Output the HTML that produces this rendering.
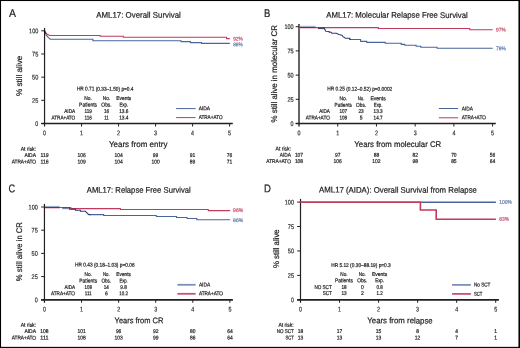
<!DOCTYPE html>
<html><head><meta charset="utf-8"><style>
html,body{margin:0;padding:0;background:#fff;}
svg{display:block;font-family:"Liberation Sans", sans-serif;text-rendering:geometricPrecision;will-change:transform;}
text{stroke-width:0.22px;}
</style></head><body>
<svg width="520" height="348" viewBox="0 0 520 348">
<rect x="0" y="0" width="520" height="348" fill="#fff"/>
<line x1="44.55" y1="28.00" x2="44.55" y2="126.50" stroke="#231f20" stroke-width="1.2"/>
<line x1="41.25" y1="123.50" x2="232.80" y2="123.50" stroke="#231f20" stroke-width="1.3"/>
<line x1="41.25" y1="30.80" x2="44.55" y2="30.80" stroke="#231f20" stroke-width="1.0"/>
<line x1="41.25" y1="53.98" x2="44.55" y2="53.98" stroke="#231f20" stroke-width="1.0"/>
<line x1="41.25" y1="77.15" x2="44.55" y2="77.15" stroke="#231f20" stroke-width="1.0"/>
<line x1="41.25" y1="100.33" x2="44.55" y2="100.33" stroke="#231f20" stroke-width="1.0"/>
<line x1="41.25" y1="123.50" x2="44.55" y2="123.50" stroke="#231f20" stroke-width="1.0"/>
<line x1="81.56" y1="123.50" x2="81.56" y2="126.50" stroke="#231f20" stroke-width="1.0"/>
<line x1="118.57" y1="123.50" x2="118.57" y2="126.50" stroke="#231f20" stroke-width="1.0"/>
<line x1="155.58" y1="123.50" x2="155.58" y2="126.50" stroke="#231f20" stroke-width="1.0"/>
<line x1="192.59" y1="123.50" x2="192.59" y2="126.50" stroke="#231f20" stroke-width="1.0"/>
<line x1="229.60" y1="123.50" x2="229.60" y2="126.50" stroke="#231f20" stroke-width="1.0"/>
<text transform="rotate(0.1 29.10 33.20)" x="29.10" y="33.20" font-size="6.7" text-anchor="start" fill="#333" stroke="#333" stroke-width="0.05" textLength="9.20" lengthAdjust="spacingAndGlyphs">100</text>
<text transform="rotate(0.1 32.10 56.38)" x="32.10" y="56.38" font-size="6.7" text-anchor="start" fill="#333" stroke="#333" stroke-width="0.05" textLength="6.20" lengthAdjust="spacingAndGlyphs">75</text>
<text transform="rotate(0.1 32.10 79.55)" x="32.10" y="79.55" font-size="6.7" text-anchor="start" fill="#333" stroke="#333" stroke-width="0.05" textLength="6.20" lengthAdjust="spacingAndGlyphs">50</text>
<text transform="rotate(0.1 32.10 102.73)" x="32.10" y="102.73" font-size="6.7" text-anchor="start" fill="#333" stroke="#333" stroke-width="0.05" textLength="6.20" lengthAdjust="spacingAndGlyphs">25</text>
<text transform="rotate(0.1 35.30 125.90)" x="35.30" y="125.90" font-size="6.7" text-anchor="start" fill="#333" stroke="#333" stroke-width="0.05" textLength="3.00" lengthAdjust="spacingAndGlyphs">0</text>
<text transform="rotate(0.1 43.05 135.20)" x="43.05" y="135.20" font-size="6.7" text-anchor="start" fill="#333" stroke="#333" stroke-width="0.05" textLength="3.00" lengthAdjust="spacingAndGlyphs">0</text>
<text transform="rotate(0.1 80.06 135.20)" x="80.06" y="135.20" font-size="6.7" text-anchor="start" fill="#333" stroke="#333" stroke-width="0.05" textLength="3.00" lengthAdjust="spacingAndGlyphs">1</text>
<text transform="rotate(0.1 117.07 135.20)" x="117.07" y="135.20" font-size="6.7" text-anchor="start" fill="#333" stroke="#333" stroke-width="0.05" textLength="3.00" lengthAdjust="spacingAndGlyphs">2</text>
<text transform="rotate(0.1 154.08 135.20)" x="154.08" y="135.20" font-size="6.7" text-anchor="start" fill="#333" stroke="#333" stroke-width="0.05" textLength="3.00" lengthAdjust="spacingAndGlyphs">3</text>
<text transform="rotate(0.1 191.09 135.20)" x="191.09" y="135.20" font-size="6.7" text-anchor="start" fill="#333" stroke="#333" stroke-width="0.05" textLength="3.00" lengthAdjust="spacingAndGlyphs">4</text>
<text transform="rotate(0.1 228.10 135.20)" x="228.10" y="135.20" font-size="6.7" text-anchor="start" fill="#333" stroke="#333" stroke-width="0.05" textLength="3.00" lengthAdjust="spacingAndGlyphs">5</text>
<text transform="rotate(0.1 8.90 16.90)" x="8.90" y="16.90" font-size="11.2" text-anchor="start" fill="#231f20" stroke="#231f20" stroke-width="0.1" textLength="7.00" lengthAdjust="spacingAndGlyphs">A</text>
<text transform="rotate(0.1 96.20 17.70)" x="96.20" y="17.70" font-size="8.2" text-anchor="start" fill="#231f20" stroke="#231f20" stroke-width="0.36" textLength="84.60" lengthAdjust="spacingAndGlyphs">AML17: Overall Survival</text>
<text transform="rotate(0.1 108.90 146.90)" x="108.90" y="146.90" font-size="8.2" text-anchor="start" fill="#231f20" stroke="#231f20" stroke-width="0.36" textLength="58.50" lengthAdjust="spacingAndGlyphs">Years from entry</text>
<text transform="translate(21.90,96.00) rotate(-90)" x="0" y="0" font-size="8.2" fill="#231f20" stroke="#231f20" textLength="40.30" lengthAdjust="spacingAndGlyphs">% still alive</text>
<polyline points="44.50,30.50 46.20,33.40 47.60,34.40 50.00,35.50 100.20,35.50 100.20,36.30 123.30,36.30 123.30,37.30 226.60,37.30 226.60,38.60 229.80,38.60" fill="none" stroke="#c23a5c" stroke-width="1.1" stroke-linejoin="miter" style="mix-blend-mode:multiply"/>
<polyline points="44.60,31.20 46.40,35.40 48.50,37.60 50.20,39.20 92.90,39.20 92.90,40.70 181.10,40.70 181.10,41.60 190.40,41.60 190.40,42.60 201.50,42.60 201.50,43.40 229.80,43.40" fill="none" stroke="#4a659c" stroke-width="1.1" stroke-linejoin="miter" style="mix-blend-mode:multiply"/>
<text transform="rotate(0.1 233.20 40.40)" x="233.20" y="40.40" font-size="5.4" text-anchor="start" fill="#c9506f" stroke="#c9506f" stroke-width="0.05" textLength="9.60" lengthAdjust="spacingAndGlyphs">92%</text>
<text transform="rotate(0.1 233.20 46.20)" x="233.20" y="46.20" font-size="5.4" text-anchor="start" fill="#6479ab" stroke="#6479ab" stroke-width="0.05" textLength="9.60" lengthAdjust="spacingAndGlyphs">86%</text>
<text transform="rotate(0.1 76.90 90.60)" x="76.90" y="90.60" font-size="5.5" text-anchor="start" fill="#231f20" stroke="#231f20" stroke-width="0.12" textLength="56.60" lengthAdjust="spacingAndGlyphs">HR 0.71 (0.33–1.50) p=0.4</text>
<text transform="rotate(0.1 84.30 100.00)" x="84.30" y="100.00" font-size="5.5" text-anchor="start" fill="#231f20" stroke="#231f20" stroke-width="0.12" textLength="7.60" lengthAdjust="spacingAndGlyphs">No.</text>
<text transform="rotate(0.1 102.80 100.00)" x="102.80" y="100.00" font-size="5.5" text-anchor="start" fill="#231f20" stroke="#231f20" stroke-width="0.12" textLength="7.40" lengthAdjust="spacingAndGlyphs">No.</text>
<text transform="rotate(0.1 116.35 100.00)" x="116.35" y="100.00" font-size="5.5" text-anchor="start" fill="#231f20" stroke="#231f20" stroke-width="0.12" textLength="14.90" lengthAdjust="spacingAndGlyphs">Events</text>
<text transform="rotate(0.1 79.10 106.40)" x="79.10" y="106.40" font-size="5.5" text-anchor="start" fill="#231f20" stroke="#231f20" stroke-width="0.12" textLength="18.00" lengthAdjust="spacingAndGlyphs">Patients</text>
<text transform="rotate(0.1 101.35 106.40)" x="101.35" y="106.40" font-size="5.5" text-anchor="start" fill="#231f20" stroke="#231f20" stroke-width="0.12" textLength="10.30" lengthAdjust="spacingAndGlyphs">Obs.</text>
<text transform="rotate(0.1 119.50 106.40)" x="119.50" y="106.40" font-size="5.5" text-anchor="start" fill="#231f20" stroke="#231f20" stroke-width="0.12" textLength="8.60" lengthAdjust="spacingAndGlyphs">Exp.</text>
<text transform="rotate(0.1 64.20 112.90)" x="64.20" y="112.90" font-size="5.5" text-anchor="start" fill="#231f20" stroke="#231f20" stroke-width="0.12" textLength="11.00" lengthAdjust="spacingAndGlyphs">AIDA</text>
<text transform="rotate(0.1 84.40 112.90)" x="84.40" y="112.90" font-size="5.5" text-anchor="start" fill="#231f20" stroke="#231f20" stroke-width="0.12" textLength="7.40" lengthAdjust="spacingAndGlyphs">119</text>
<text transform="rotate(0.1 103.90 112.90)" x="103.90" y="112.90" font-size="5.5" text-anchor="start" fill="#231f20" stroke="#231f20" stroke-width="0.12" textLength="5.20" lengthAdjust="spacingAndGlyphs">16</text>
<text transform="rotate(0.1 119.15 112.90)" x="119.15" y="112.90" font-size="5.5" text-anchor="start" fill="#231f20" stroke="#231f20" stroke-width="0.12" textLength="9.30" lengthAdjust="spacingAndGlyphs">13.6</text>
<text transform="rotate(0.1 51.50 119.40)" x="51.50" y="119.40" font-size="5.5" text-anchor="start" fill="#231f20" stroke="#231f20" stroke-width="0.12" textLength="23.70" lengthAdjust="spacingAndGlyphs">ATRA+ATO</text>
<text transform="rotate(0.1 84.40 119.40)" x="84.40" y="119.40" font-size="5.5" text-anchor="start" fill="#231f20" stroke="#231f20" stroke-width="0.12" textLength="7.40" lengthAdjust="spacingAndGlyphs">116</text>
<text transform="rotate(0.1 104.20 119.40)" x="104.20" y="119.40" font-size="5.5" text-anchor="start" fill="#231f20" stroke="#231f20" stroke-width="0.12" textLength="4.60" lengthAdjust="spacingAndGlyphs">11</text>
<text transform="rotate(0.1 119.15 119.40)" x="119.15" y="119.40" font-size="5.5" text-anchor="start" fill="#231f20" stroke="#231f20" stroke-width="0.12" textLength="9.30" lengthAdjust="spacingAndGlyphs">13.4</text>
<line x1="176.10" y1="108.60" x2="195.60" y2="108.60" stroke="#4a659c" stroke-width="1.0"/>
<line x1="176.10" y1="117.60" x2="195.60" y2="117.60" stroke="#c23a5c" stroke-width="1.0"/>
<text transform="rotate(0.1 198.70 110.30)" x="198.70" y="110.30" font-size="5.5" text-anchor="start" fill="#231f20" stroke="#231f20" stroke-width="0.12" textLength="11.40" lengthAdjust="spacingAndGlyphs">AIDA</text>
<text transform="rotate(0.1 198.70 118.90)" x="198.70" y="118.90" font-size="5.5" text-anchor="start" fill="#231f20" stroke="#231f20" stroke-width="0.12" textLength="23.80" lengthAdjust="spacingAndGlyphs">ATRA+ATO</text>
<text transform="rotate(0.1 20.80 150.70)" x="20.80" y="150.70" font-size="5.5" text-anchor="start" fill="#231f20" stroke="#231f20" stroke-width="0.12" textLength="15.20" lengthAdjust="spacingAndGlyphs">At risk:</text>
<text transform="rotate(0.1 24.40 157.00)" x="24.40" y="157.00" font-size="5.5" text-anchor="start" fill="#231f20" stroke="#231f20" stroke-width="0.12" textLength="11.60" lengthAdjust="spacingAndGlyphs">AIDA</text>
<text transform="rotate(0.1 11.70 163.50)" x="11.70" y="163.50" font-size="5.5" text-anchor="start" fill="#231f20" stroke="#231f20" stroke-width="0.12" textLength="24.30" lengthAdjust="spacingAndGlyphs">ATRA+ATO</text>
<text transform="rotate(0.1 40.42 157.00)" x="40.42" y="157.00" font-size="5.5" text-anchor="start" fill="#231f20" stroke="#231f20" stroke-width="0.12" textLength="8.25" lengthAdjust="spacingAndGlyphs">119</text>
<text transform="rotate(0.1 77.44 157.00)" x="77.44" y="157.00" font-size="5.5" text-anchor="start" fill="#231f20" stroke="#231f20" stroke-width="0.12" textLength="8.25" lengthAdjust="spacingAndGlyphs">106</text>
<text transform="rotate(0.1 114.45 157.00)" x="114.45" y="157.00" font-size="5.5" text-anchor="start" fill="#231f20" stroke="#231f20" stroke-width="0.12" textLength="8.25" lengthAdjust="spacingAndGlyphs">104</text>
<text transform="rotate(0.1 152.83 157.00)" x="152.83" y="157.00" font-size="5.5" text-anchor="start" fill="#231f20" stroke="#231f20" stroke-width="0.12" textLength="5.50" lengthAdjust="spacingAndGlyphs">99</text>
<text transform="rotate(0.1 189.84 157.00)" x="189.84" y="157.00" font-size="5.5" text-anchor="start" fill="#231f20" stroke="#231f20" stroke-width="0.12" textLength="5.50" lengthAdjust="spacingAndGlyphs">91</text>
<text transform="rotate(0.1 226.85 157.00)" x="226.85" y="157.00" font-size="5.5" text-anchor="start" fill="#231f20" stroke="#231f20" stroke-width="0.12" textLength="5.50" lengthAdjust="spacingAndGlyphs">76</text>
<text transform="rotate(0.1 40.42 163.50)" x="40.42" y="163.50" font-size="5.5" text-anchor="start" fill="#231f20" stroke="#231f20" stroke-width="0.12" textLength="8.25" lengthAdjust="spacingAndGlyphs">116</text>
<text transform="rotate(0.1 77.44 163.50)" x="77.44" y="163.50" font-size="5.5" text-anchor="start" fill="#231f20" stroke="#231f20" stroke-width="0.12" textLength="8.25" lengthAdjust="spacingAndGlyphs">109</text>
<text transform="rotate(0.1 114.45 163.50)" x="114.45" y="163.50" font-size="5.5" text-anchor="start" fill="#231f20" stroke="#231f20" stroke-width="0.12" textLength="8.25" lengthAdjust="spacingAndGlyphs">104</text>
<text transform="rotate(0.1 151.46 163.50)" x="151.46" y="163.50" font-size="5.5" text-anchor="start" fill="#231f20" stroke="#231f20" stroke-width="0.12" textLength="8.25" lengthAdjust="spacingAndGlyphs">100</text>
<text transform="rotate(0.1 189.84 163.50)" x="189.84" y="163.50" font-size="5.5" text-anchor="start" fill="#231f20" stroke="#231f20" stroke-width="0.12" textLength="5.50" lengthAdjust="spacingAndGlyphs">89</text>
<text transform="rotate(0.1 226.85 163.50)" x="226.85" y="163.50" font-size="5.5" text-anchor="start" fill="#231f20" stroke="#231f20" stroke-width="0.12" textLength="5.50" lengthAdjust="spacingAndGlyphs">71</text>
<line x1="299.00" y1="23.90" x2="299.00" y2="126.50" stroke="#333333" stroke-width="1.5"/>
<line x1="295.70" y1="123.50" x2="495.80" y2="123.50" stroke="#231f20" stroke-width="1.3"/>
<line x1="295.70" y1="26.70" x2="299.00" y2="26.70" stroke="#231f20" stroke-width="1.0"/>
<line x1="295.70" y1="50.90" x2="299.00" y2="50.90" stroke="#231f20" stroke-width="1.0"/>
<line x1="295.70" y1="75.10" x2="299.00" y2="75.10" stroke="#231f20" stroke-width="1.0"/>
<line x1="295.70" y1="99.30" x2="299.00" y2="99.30" stroke="#231f20" stroke-width="1.0"/>
<line x1="295.70" y1="123.50" x2="299.00" y2="123.50" stroke="#231f20" stroke-width="1.0"/>
<line x1="337.72" y1="123.50" x2="337.72" y2="126.50" stroke="#231f20" stroke-width="1.0"/>
<line x1="376.44" y1="123.50" x2="376.44" y2="126.50" stroke="#231f20" stroke-width="1.0"/>
<line x1="415.16" y1="123.50" x2="415.16" y2="126.50" stroke="#231f20" stroke-width="1.0"/>
<line x1="453.88" y1="123.50" x2="453.88" y2="126.50" stroke="#231f20" stroke-width="1.0"/>
<line x1="492.60" y1="123.50" x2="492.60" y2="126.50" stroke="#231f20" stroke-width="1.0"/>
<text transform="rotate(0.1 284.40 29.10)" x="284.40" y="29.10" font-size="6.7" text-anchor="start" fill="#333" stroke="#333" stroke-width="0.05" textLength="9.20" lengthAdjust="spacingAndGlyphs">100</text>
<text transform="rotate(0.1 287.40 53.30)" x="287.40" y="53.30" font-size="6.7" text-anchor="start" fill="#333" stroke="#333" stroke-width="0.05" textLength="6.20" lengthAdjust="spacingAndGlyphs">75</text>
<text transform="rotate(0.1 287.40 77.50)" x="287.40" y="77.50" font-size="6.7" text-anchor="start" fill="#333" stroke="#333" stroke-width="0.05" textLength="6.20" lengthAdjust="spacingAndGlyphs">50</text>
<text transform="rotate(0.1 287.40 101.70)" x="287.40" y="101.70" font-size="6.7" text-anchor="start" fill="#333" stroke="#333" stroke-width="0.05" textLength="6.20" lengthAdjust="spacingAndGlyphs">25</text>
<text transform="rotate(0.1 290.60 125.90)" x="290.60" y="125.90" font-size="6.7" text-anchor="start" fill="#333" stroke="#333" stroke-width="0.05" textLength="3.00" lengthAdjust="spacingAndGlyphs">0</text>
<text transform="rotate(0.1 297.50 135.30)" x="297.50" y="135.30" font-size="6.7" text-anchor="start" fill="#333" stroke="#333" stroke-width="0.05" textLength="3.00" lengthAdjust="spacingAndGlyphs">0</text>
<text transform="rotate(0.1 336.22 135.30)" x="336.22" y="135.30" font-size="6.7" text-anchor="start" fill="#333" stroke="#333" stroke-width="0.05" textLength="3.00" lengthAdjust="spacingAndGlyphs">1</text>
<text transform="rotate(0.1 374.94 135.30)" x="374.94" y="135.30" font-size="6.7" text-anchor="start" fill="#333" stroke="#333" stroke-width="0.05" textLength="3.00" lengthAdjust="spacingAndGlyphs">2</text>
<text transform="rotate(0.1 413.66 135.30)" x="413.66" y="135.30" font-size="6.7" text-anchor="start" fill="#333" stroke="#333" stroke-width="0.05" textLength="3.00" lengthAdjust="spacingAndGlyphs">3</text>
<text transform="rotate(0.1 452.38 135.30)" x="452.38" y="135.30" font-size="6.7" text-anchor="start" fill="#333" stroke="#333" stroke-width="0.05" textLength="3.00" lengthAdjust="spacingAndGlyphs">4</text>
<text transform="rotate(0.1 491.10 135.30)" x="491.10" y="135.30" font-size="6.7" text-anchor="start" fill="#333" stroke="#333" stroke-width="0.05" textLength="3.00" lengthAdjust="spacingAndGlyphs">5</text>
<text transform="rotate(0.1 264.10 16.90)" x="264.10" y="16.90" font-size="11.2" text-anchor="start" fill="#231f20" stroke="#231f20" stroke-width="0.1" textLength="6.30" lengthAdjust="spacingAndGlyphs">B</text>
<text transform="rotate(0.1 326.30 17.70)" x="326.30" y="17.70" font-size="8.2" text-anchor="start" fill="#231f20" stroke="#231f20" stroke-width="0.36" textLength="141.50" lengthAdjust="spacingAndGlyphs">AML17: Molecular Relapse Free Survival</text>
<text transform="rotate(0.1 354.30 146.90)" x="354.30" y="146.90" font-size="8.2" text-anchor="start" fill="#231f20" stroke="#231f20" stroke-width="0.36" textLength="86.90" lengthAdjust="spacingAndGlyphs">Years from molecular CR</text>
<text transform="translate(276.90,122.40) rotate(-90)" x="0" y="0" font-size="8.2" fill="#231f20" stroke="#231f20" textLength="97.40" lengthAdjust="spacingAndGlyphs">% still alive in molecular CR</text>
<polyline points="318.00,28.40 324.30,28.40 325.80,31.20 329.20,31.40 329.20,32.30 331.30,32.30 331.80,33.20 336.40,33.20 338.80,34.60 342.00,35.20 343.00,36.70 345.40,38.20 349.80,38.20 349.80,39.50 351.00,39.50" fill="none" stroke="#2f3e72" stroke-width="1.1" stroke-linejoin="miter" style="mix-blend-mode:multiply"/>
<polyline points="350.60,39.50 360.60,39.50 360.60,41.40 366.70,41.40 366.70,42.40 385.20,42.40 385.20,43.30 401.20,43.30 401.20,44.40 404.80,44.40 404.80,45.30 416.10,45.30 416.10,46.30 420.80,46.30 420.80,47.30 437.10,47.30 437.10,48.20 492.70,48.20" fill="none" stroke="#4a659c" stroke-width="1.1" stroke-linejoin="miter" style="mix-blend-mode:multiply"/>
<polyline points="315.80,27.60 378.30,27.60 378.30,28.50 469.80,28.50 469.80,29.80 492.70,29.80" fill="none" stroke="#c23a5c" stroke-width="1.1" stroke-linejoin="miter" style="mix-blend-mode:multiply"/>
<polyline points="318.00,29.30 324.00,29.30" fill="none" stroke="#c6e2ee" stroke-width="0.7" stroke-linejoin="miter"/>
<polyline points="299.50,26.30 315.80,26.30" fill="none" stroke="#8fb4d6" stroke-width="0.9" stroke-linejoin="miter"/>
<polyline points="299.50,28.40 315.80,28.40" fill="none" stroke="#f3aebd" stroke-width="0.8" stroke-linejoin="miter"/>
<polyline points="299.30,27.40 315.80,27.40" fill="none" stroke="#5a1545" stroke-width="1.0" stroke-linejoin="miter"/>
<text transform="rotate(0.1 496.10 31.50)" x="496.10" y="31.50" font-size="5.4" text-anchor="start" fill="#c9506f" stroke="#c9506f" stroke-width="0.05" textLength="9.80" lengthAdjust="spacingAndGlyphs">97%</text>
<text transform="rotate(0.1 496.10 50.20)" x="496.10" y="50.20" font-size="5.4" text-anchor="start" fill="#6479ab" stroke="#6479ab" stroke-width="0.05" textLength="9.80" lengthAdjust="spacingAndGlyphs">78%</text>
<text transform="rotate(0.1 327.30 90.60)" x="327.30" y="90.60" font-size="5.5" text-anchor="start" fill="#231f20" stroke="#231f20" stroke-width="0.12" textLength="65.00" lengthAdjust="spacingAndGlyphs">HR 0.25 (0.12–0.52) p=0.0002</text>
<text transform="rotate(0.1 339.40 100.20)" x="339.40" y="100.20" font-size="5.5" text-anchor="start" fill="#231f20" stroke="#231f20" stroke-width="0.12" textLength="7.70" lengthAdjust="spacingAndGlyphs">No.</text>
<text transform="rotate(0.1 357.75 100.20)" x="357.75" y="100.20" font-size="5.5" text-anchor="start" fill="#231f20" stroke="#231f20" stroke-width="0.12" textLength="6.70" lengthAdjust="spacingAndGlyphs">No.</text>
<text transform="rotate(0.1 370.40 100.20)" x="370.40" y="100.20" font-size="5.5" text-anchor="start" fill="#231f20" stroke="#231f20" stroke-width="0.12" textLength="15.40" lengthAdjust="spacingAndGlyphs">Events</text>
<text transform="rotate(0.1 334.60 106.70)" x="334.60" y="106.70" font-size="5.5" text-anchor="start" fill="#231f20" stroke="#231f20" stroke-width="0.12" textLength="17.30" lengthAdjust="spacingAndGlyphs">Patients</text>
<text transform="rotate(0.1 356.05 106.70)" x="356.05" y="106.70" font-size="5.5" text-anchor="start" fill="#231f20" stroke="#231f20" stroke-width="0.12" textLength="10.10" lengthAdjust="spacingAndGlyphs">Obs.</text>
<text transform="rotate(0.1 373.75 106.70)" x="373.75" y="106.70" font-size="5.5" text-anchor="start" fill="#231f20" stroke="#231f20" stroke-width="0.12" textLength="8.70" lengthAdjust="spacingAndGlyphs">Exp.</text>
<text transform="rotate(0.1 319.20 113.10)" x="319.20" y="113.10" font-size="5.5" text-anchor="start" fill="#231f20" stroke="#231f20" stroke-width="0.12" textLength="10.60" lengthAdjust="spacingAndGlyphs">AIDA</text>
<text transform="rotate(0.1 339.40 113.10)" x="339.40" y="113.10" font-size="5.5" text-anchor="start" fill="#231f20" stroke="#231f20" stroke-width="0.12" textLength="7.70" lengthAdjust="spacingAndGlyphs">107</text>
<text transform="rotate(0.1 358.50 113.10)" x="358.50" y="113.10" font-size="5.5" text-anchor="start" fill="#231f20" stroke="#231f20" stroke-width="0.12" textLength="5.20" lengthAdjust="spacingAndGlyphs">23</text>
<text transform="rotate(0.1 373.60 113.10)" x="373.60" y="113.10" font-size="5.5" text-anchor="start" fill="#231f20" stroke="#231f20" stroke-width="0.12" textLength="9.00" lengthAdjust="spacingAndGlyphs">13.3</text>
<text transform="rotate(0.1 305.80 119.40)" x="305.80" y="119.40" font-size="5.5" text-anchor="start" fill="#231f20" stroke="#231f20" stroke-width="0.12" textLength="24.00" lengthAdjust="spacingAndGlyphs">ATRA+ATO</text>
<text transform="rotate(0.1 339.40 119.40)" x="339.40" y="119.40" font-size="5.5" text-anchor="start" fill="#231f20" stroke="#231f20" stroke-width="0.12" textLength="7.70" lengthAdjust="spacingAndGlyphs">108</text>
<text transform="rotate(0.1 359.70 119.40)" x="359.70" y="119.40" font-size="5.5" text-anchor="start" fill="#231f20" stroke="#231f20" stroke-width="0.12" textLength="2.80" lengthAdjust="spacingAndGlyphs">5</text>
<text transform="rotate(0.1 373.60 119.40)" x="373.60" y="119.40" font-size="5.5" text-anchor="start" fill="#231f20" stroke="#231f20" stroke-width="0.12" textLength="9.00" lengthAdjust="spacingAndGlyphs">14.7</text>
<line x1="438.80" y1="108.50" x2="458.20" y2="108.50" stroke="#4a659c" stroke-width="1.0"/>
<line x1="438.80" y1="117.80" x2="458.20" y2="117.80" stroke="#c23a5c" stroke-width="1.0"/>
<text transform="rotate(0.1 461.80 110.40)" x="461.80" y="110.40" font-size="5.5" text-anchor="start" fill="#231f20" stroke="#231f20" stroke-width="0.12" textLength="11.20" lengthAdjust="spacingAndGlyphs">AIDA</text>
<text transform="rotate(0.1 461.80 119.30)" x="461.80" y="119.30" font-size="5.5" text-anchor="start" fill="#231f20" stroke="#231f20" stroke-width="0.12" textLength="24.00" lengthAdjust="spacingAndGlyphs">ATRA+ATO</text>
<text transform="rotate(0.1 275.60 150.60)" x="275.60" y="150.60" font-size="5.5" text-anchor="start" fill="#231f20" stroke="#231f20" stroke-width="0.12" textLength="15.30" lengthAdjust="spacingAndGlyphs">At risk:</text>
<text transform="rotate(0.1 279.80 156.80)" x="279.80" y="156.80" font-size="5.5" text-anchor="start" fill="#231f20" stroke="#231f20" stroke-width="0.12" textLength="11.10" lengthAdjust="spacingAndGlyphs">AIDA</text>
<text transform="rotate(0.1 266.30 163.10)" x="266.30" y="163.10" font-size="5.5" text-anchor="start" fill="#231f20" stroke="#231f20" stroke-width="0.12" textLength="24.60" lengthAdjust="spacingAndGlyphs">ATRA+ATO</text>
<text transform="rotate(0.1 294.88 156.80)" x="294.88" y="156.80" font-size="5.5" text-anchor="start" fill="#231f20" stroke="#231f20" stroke-width="0.12" textLength="8.25" lengthAdjust="spacingAndGlyphs">107</text>
<text transform="rotate(0.1 334.97 156.80)" x="334.97" y="156.80" font-size="5.5" text-anchor="start" fill="#231f20" stroke="#231f20" stroke-width="0.12" textLength="5.50" lengthAdjust="spacingAndGlyphs">97</text>
<text transform="rotate(0.1 373.69 156.80)" x="373.69" y="156.80" font-size="5.5" text-anchor="start" fill="#231f20" stroke="#231f20" stroke-width="0.12" textLength="5.50" lengthAdjust="spacingAndGlyphs">88</text>
<text transform="rotate(0.1 412.41 156.80)" x="412.41" y="156.80" font-size="5.5" text-anchor="start" fill="#231f20" stroke="#231f20" stroke-width="0.12" textLength="5.50" lengthAdjust="spacingAndGlyphs">82</text>
<text transform="rotate(0.1 451.13 156.80)" x="451.13" y="156.80" font-size="5.5" text-anchor="start" fill="#231f20" stroke="#231f20" stroke-width="0.12" textLength="5.50" lengthAdjust="spacingAndGlyphs">70</text>
<text transform="rotate(0.1 489.85 156.80)" x="489.85" y="156.80" font-size="5.5" text-anchor="start" fill="#231f20" stroke="#231f20" stroke-width="0.12" textLength="5.50" lengthAdjust="spacingAndGlyphs">56</text>
<text transform="rotate(0.1 294.88 163.10)" x="294.88" y="163.10" font-size="5.5" text-anchor="start" fill="#231f20" stroke="#231f20" stroke-width="0.12" textLength="8.25" lengthAdjust="spacingAndGlyphs">108</text>
<text transform="rotate(0.1 333.60 163.10)" x="333.60" y="163.10" font-size="5.5" text-anchor="start" fill="#231f20" stroke="#231f20" stroke-width="0.12" textLength="8.25" lengthAdjust="spacingAndGlyphs">106</text>
<text transform="rotate(0.1 372.31 163.10)" x="372.31" y="163.10" font-size="5.5" text-anchor="start" fill="#231f20" stroke="#231f20" stroke-width="0.12" textLength="8.25" lengthAdjust="spacingAndGlyphs">102</text>
<text transform="rotate(0.1 412.41 163.10)" x="412.41" y="163.10" font-size="5.5" text-anchor="start" fill="#231f20" stroke="#231f20" stroke-width="0.12" textLength="5.50" lengthAdjust="spacingAndGlyphs">98</text>
<text transform="rotate(0.1 451.13 163.10)" x="451.13" y="163.10" font-size="5.5" text-anchor="start" fill="#231f20" stroke="#231f20" stroke-width="0.12" textLength="5.50" lengthAdjust="spacingAndGlyphs">85</text>
<text transform="rotate(0.1 489.85 163.10)" x="489.85" y="163.10" font-size="5.5" text-anchor="start" fill="#231f20" stroke="#231f20" stroke-width="0.12" textLength="5.50" lengthAdjust="spacingAndGlyphs">64</text>
<line x1="44.45" y1="203.90" x2="44.45" y2="302.80" stroke="#231f20" stroke-width="1.2"/>
<line x1="41.15" y1="299.80" x2="232.90" y2="299.80" stroke="#231f20" stroke-width="1.8"/>
<line x1="41.15" y1="207.00" x2="44.45" y2="207.00" stroke="#231f20" stroke-width="1.0"/>
<line x1="41.15" y1="230.20" x2="44.45" y2="230.20" stroke="#231f20" stroke-width="1.0"/>
<line x1="41.15" y1="253.40" x2="44.45" y2="253.40" stroke="#231f20" stroke-width="1.0"/>
<line x1="41.15" y1="276.60" x2="44.45" y2="276.60" stroke="#231f20" stroke-width="1.0"/>
<line x1="41.15" y1="299.80" x2="44.45" y2="299.80" stroke="#231f20" stroke-width="1.0"/>
<line x1="81.54" y1="299.80" x2="81.54" y2="302.80" stroke="#231f20" stroke-width="1.0"/>
<line x1="118.63" y1="299.80" x2="118.63" y2="302.80" stroke="#231f20" stroke-width="1.0"/>
<line x1="155.72" y1="299.80" x2="155.72" y2="302.80" stroke="#231f20" stroke-width="1.0"/>
<line x1="192.81" y1="299.80" x2="192.81" y2="302.80" stroke="#231f20" stroke-width="1.0"/>
<line x1="229.90" y1="299.80" x2="229.90" y2="302.80" stroke="#231f20" stroke-width="1.0"/>
<text transform="rotate(0.1 28.60 209.40)" x="28.60" y="209.40" font-size="6.7" text-anchor="start" fill="#333" stroke="#333" stroke-width="0.05" textLength="9.20" lengthAdjust="spacingAndGlyphs">100</text>
<text transform="rotate(0.1 31.60 232.60)" x="31.60" y="232.60" font-size="6.7" text-anchor="start" fill="#333" stroke="#333" stroke-width="0.05" textLength="6.20" lengthAdjust="spacingAndGlyphs">75</text>
<text transform="rotate(0.1 31.60 255.80)" x="31.60" y="255.80" font-size="6.7" text-anchor="start" fill="#333" stroke="#333" stroke-width="0.05" textLength="6.20" lengthAdjust="spacingAndGlyphs">50</text>
<text transform="rotate(0.1 31.60 279.00)" x="31.60" y="279.00" font-size="6.7" text-anchor="start" fill="#333" stroke="#333" stroke-width="0.05" textLength="6.20" lengthAdjust="spacingAndGlyphs">25</text>
<text transform="rotate(0.1 34.80 302.20)" x="34.80" y="302.20" font-size="6.7" text-anchor="start" fill="#333" stroke="#333" stroke-width="0.05" textLength="3.00" lengthAdjust="spacingAndGlyphs">0</text>
<text transform="rotate(0.1 42.95 311.40)" x="42.95" y="311.40" font-size="6.7" text-anchor="start" fill="#333" stroke="#333" stroke-width="0.05" textLength="3.00" lengthAdjust="spacingAndGlyphs">0</text>
<text transform="rotate(0.1 80.04 311.40)" x="80.04" y="311.40" font-size="6.7" text-anchor="start" fill="#333" stroke="#333" stroke-width="0.05" textLength="3.00" lengthAdjust="spacingAndGlyphs">1</text>
<text transform="rotate(0.1 117.13 311.40)" x="117.13" y="311.40" font-size="6.7" text-anchor="start" fill="#333" stroke="#333" stroke-width="0.05" textLength="3.00" lengthAdjust="spacingAndGlyphs">2</text>
<text transform="rotate(0.1 154.22 311.40)" x="154.22" y="311.40" font-size="6.7" text-anchor="start" fill="#333" stroke="#333" stroke-width="0.05" textLength="3.00" lengthAdjust="spacingAndGlyphs">3</text>
<text transform="rotate(0.1 191.31 311.40)" x="191.31" y="311.40" font-size="6.7" text-anchor="start" fill="#333" stroke="#333" stroke-width="0.05" textLength="3.00" lengthAdjust="spacingAndGlyphs">4</text>
<text transform="rotate(0.1 228.40 311.40)" x="228.40" y="311.40" font-size="6.7" text-anchor="start" fill="#333" stroke="#333" stroke-width="0.05" textLength="3.00" lengthAdjust="spacingAndGlyphs">5</text>
<text transform="rotate(0.1 8.60 192.30)" x="8.60" y="192.30" font-size="11.2" text-anchor="start" fill="#231f20" stroke="#231f20" stroke-width="0.1" textLength="6.60" lengthAdjust="spacingAndGlyphs">C</text>
<text transform="rotate(0.1 86.80 192.70)" x="86.80" y="192.70" font-size="8.2" text-anchor="start" fill="#231f20" stroke="#231f20" stroke-width="0.36" textLength="104.00" lengthAdjust="spacingAndGlyphs">AML17: Relapse Free Survival</text>
<text transform="rotate(0.1 114.60 323.20)" x="114.60" y="323.20" font-size="8.2" text-anchor="start" fill="#231f20" stroke="#231f20" stroke-width="0.36" textLength="48.80" lengthAdjust="spacingAndGlyphs">Years from CR</text>
<text transform="translate(22.10,281.30) rotate(-90)" x="0" y="0" font-size="8.2" fill="#231f20" stroke="#231f20" textLength="59.20" lengthAdjust="spacingAndGlyphs">% still alive in CR</text>
<polyline points="62.20,208.30 69.50,208.30 69.50,209.30 75.50,209.30 75.50,210.20 80.40,210.20 80.40,211.30 85.40,211.30 88.80,214.60 90.50,214.60" fill="none" stroke="#2f3e72" stroke-width="1.1" stroke-linejoin="miter" style="mix-blend-mode:multiply"/>
<polyline points="90.00,214.60 103.70,214.60 103.70,215.50 156.30,215.50 156.30,216.50 176.50,216.50 176.50,217.50 187.10,217.50 187.10,218.50 196.80,218.50 196.80,219.70 230.20,219.70" fill="none" stroke="#4a659c" stroke-width="1.1" stroke-linejoin="miter" style="mix-blend-mode:multiply"/>
<polyline points="59.80,207.50 70.80,207.50 70.80,208.60 120.40,208.60 120.40,209.50 208.30,209.50 208.30,210.60 230.20,210.60" fill="none" stroke="#c23a5c" stroke-width="1.1" stroke-linejoin="miter" style="mix-blend-mode:multiply"/>
<polyline points="62.20,209.20 69.30,209.20" fill="none" stroke="#c6e2ee" stroke-width="0.7" stroke-linejoin="miter"/>
<polyline points="45.00,206.40 59.80,206.40" fill="none" stroke="#8fb4d6" stroke-width="0.9" stroke-linejoin="miter"/>
<polyline points="45.00,208.40 59.80,208.40" fill="none" stroke="#f3aebd" stroke-width="0.8" stroke-linejoin="miter"/>
<polyline points="44.80,207.40 59.80,207.40" fill="none" stroke="#5a1545" stroke-width="1.0" stroke-linejoin="miter"/>
<text transform="rotate(0.1 233.10 212.10)" x="233.10" y="212.10" font-size="5.4" text-anchor="start" fill="#c9506f" stroke="#c9506f" stroke-width="0.05" textLength="10.10" lengthAdjust="spacingAndGlyphs">96%</text>
<text transform="rotate(0.1 233.10 221.90)" x="233.10" y="221.90" font-size="5.4" text-anchor="start" fill="#6479ab" stroke="#6479ab" stroke-width="0.05" textLength="10.10" lengthAdjust="spacingAndGlyphs">86%</text>
<text transform="rotate(0.1 75.00 266.60)" x="75.00" y="266.60" font-size="5.5" text-anchor="start" fill="#231f20" stroke="#231f20" stroke-width="0.12" textLength="59.60" lengthAdjust="spacingAndGlyphs">HR 0.43 (0.18–1.03) p=0.06</text>
<text transform="rotate(0.1 84.55 276.10)" x="84.55" y="276.10" font-size="5.5" text-anchor="start" fill="#231f20" stroke="#231f20" stroke-width="0.12" textLength="7.30" lengthAdjust="spacingAndGlyphs">No.</text>
<text transform="rotate(0.1 102.95 276.10)" x="102.95" y="276.10" font-size="5.5" text-anchor="start" fill="#231f20" stroke="#231f20" stroke-width="0.12" textLength="6.70" lengthAdjust="spacingAndGlyphs">No.</text>
<text transform="rotate(0.1 116.35 276.10)" x="116.35" y="276.10" font-size="5.5" text-anchor="start" fill="#231f20" stroke="#231f20" stroke-width="0.12" textLength="14.50" lengthAdjust="spacingAndGlyphs">Events</text>
<text transform="rotate(0.1 79.25 282.50)" x="79.25" y="282.50" font-size="5.5" text-anchor="start" fill="#231f20" stroke="#231f20" stroke-width="0.12" textLength="17.90" lengthAdjust="spacingAndGlyphs">Patients</text>
<text transform="rotate(0.1 101.45 282.50)" x="101.45" y="282.50" font-size="5.5" text-anchor="start" fill="#231f20" stroke="#231f20" stroke-width="0.12" textLength="9.70" lengthAdjust="spacingAndGlyphs">Obs.</text>
<text transform="rotate(0.1 119.45 282.50)" x="119.45" y="282.50" font-size="5.5" text-anchor="start" fill="#231f20" stroke="#231f20" stroke-width="0.12" textLength="8.30" lengthAdjust="spacingAndGlyphs">Exp.</text>
<text transform="rotate(0.1 64.40 288.90)" x="64.40" y="288.90" font-size="5.5" text-anchor="start" fill="#231f20" stroke="#231f20" stroke-width="0.12" textLength="10.60" lengthAdjust="spacingAndGlyphs">AIDA</text>
<text transform="rotate(0.1 84.50 288.90)" x="84.50" y="288.90" font-size="5.5" text-anchor="start" fill="#231f20" stroke="#231f20" stroke-width="0.12" textLength="7.40" lengthAdjust="spacingAndGlyphs">108</text>
<text transform="rotate(0.1 103.70 288.90)" x="103.70" y="288.90" font-size="5.5" text-anchor="start" fill="#231f20" stroke="#231f20" stroke-width="0.12" textLength="5.20" lengthAdjust="spacingAndGlyphs">14</text>
<text transform="rotate(0.1 120.35 288.90)" x="120.35" y="288.90" font-size="5.5" text-anchor="start" fill="#231f20" stroke="#231f20" stroke-width="0.12" textLength="6.50" lengthAdjust="spacingAndGlyphs">9.8</text>
<text transform="rotate(0.1 51.00 295.20)" x="51.00" y="295.20" font-size="5.5" text-anchor="start" fill="#231f20" stroke="#231f20" stroke-width="0.12" textLength="24.00" lengthAdjust="spacingAndGlyphs">ATRA+ATO</text>
<text transform="rotate(0.1 84.70 295.20)" x="84.70" y="295.20" font-size="5.5" text-anchor="start" fill="#231f20" stroke="#231f20" stroke-width="0.12" textLength="7.00" lengthAdjust="spacingAndGlyphs">111</text>
<text transform="rotate(0.1 104.90 295.20)" x="104.90" y="295.20" font-size="5.5" text-anchor="start" fill="#231f20" stroke="#231f20" stroke-width="0.12" textLength="2.80" lengthAdjust="spacingAndGlyphs">6</text>
<text transform="rotate(0.1 119.25 295.20)" x="119.25" y="295.20" font-size="5.5" text-anchor="start" fill="#231f20" stroke="#231f20" stroke-width="0.12" textLength="8.70" lengthAdjust="spacingAndGlyphs">10.2</text>
<line x1="177.40" y1="284.80" x2="195.60" y2="284.80" stroke="#7d91b8" stroke-width="1.8"/>
<line x1="177.40" y1="293.80" x2="195.60" y2="293.80" stroke="#c8537a" stroke-width="1.8"/>
<text transform="rotate(0.1 198.90 286.50)" x="198.90" y="286.50" font-size="5.5" text-anchor="start" fill="#231f20" stroke="#231f20" stroke-width="0.12" textLength="11.20" lengthAdjust="spacingAndGlyphs">AIDA</text>
<text transform="rotate(0.1 198.90 295.30)" x="198.90" y="295.30" font-size="5.5" text-anchor="start" fill="#231f20" stroke="#231f20" stroke-width="0.12" textLength="23.90" lengthAdjust="spacingAndGlyphs">ATRA+ATO</text>
<text transform="rotate(0.1 20.80 326.80)" x="20.80" y="326.80" font-size="5.5" text-anchor="start" fill="#231f20" stroke="#231f20" stroke-width="0.12" textLength="15.20" lengthAdjust="spacingAndGlyphs">At risk:</text>
<text transform="rotate(0.1 24.40 333.10)" x="24.40" y="333.10" font-size="5.5" text-anchor="start" fill="#231f20" stroke="#231f20" stroke-width="0.12" textLength="11.60" lengthAdjust="spacingAndGlyphs">AIDA</text>
<text transform="rotate(0.1 11.70 339.60)" x="11.70" y="339.60" font-size="5.5" text-anchor="start" fill="#231f20" stroke="#231f20" stroke-width="0.12" textLength="24.30" lengthAdjust="spacingAndGlyphs">ATRA+ATO</text>
<text transform="rotate(0.1 40.33 333.10)" x="40.33" y="333.10" font-size="5.5" text-anchor="start" fill="#231f20" stroke="#231f20" stroke-width="0.12" textLength="8.25" lengthAdjust="spacingAndGlyphs">108</text>
<text transform="rotate(0.1 77.41 333.10)" x="77.41" y="333.10" font-size="5.5" text-anchor="start" fill="#231f20" stroke="#231f20" stroke-width="0.12" textLength="8.25" lengthAdjust="spacingAndGlyphs">101</text>
<text transform="rotate(0.1 115.88 333.10)" x="115.88" y="333.10" font-size="5.5" text-anchor="start" fill="#231f20" stroke="#231f20" stroke-width="0.12" textLength="5.50" lengthAdjust="spacingAndGlyphs">96</text>
<text transform="rotate(0.1 152.97 333.10)" x="152.97" y="333.10" font-size="5.5" text-anchor="start" fill="#231f20" stroke="#231f20" stroke-width="0.12" textLength="5.50" lengthAdjust="spacingAndGlyphs">92</text>
<text transform="rotate(0.1 190.06 333.10)" x="190.06" y="333.10" font-size="5.5" text-anchor="start" fill="#231f20" stroke="#231f20" stroke-width="0.12" textLength="5.50" lengthAdjust="spacingAndGlyphs">80</text>
<text transform="rotate(0.1 227.15 333.10)" x="227.15" y="333.10" font-size="5.5" text-anchor="start" fill="#231f20" stroke="#231f20" stroke-width="0.12" textLength="5.50" lengthAdjust="spacingAndGlyphs">64</text>
<text transform="rotate(0.1 40.33 339.60)" x="40.33" y="339.60" font-size="5.5" text-anchor="start" fill="#231f20" stroke="#231f20" stroke-width="0.12" textLength="8.25" lengthAdjust="spacingAndGlyphs">111</text>
<text transform="rotate(0.1 77.41 339.60)" x="77.41" y="339.60" font-size="5.5" text-anchor="start" fill="#231f20" stroke="#231f20" stroke-width="0.12" textLength="8.25" lengthAdjust="spacingAndGlyphs">108</text>
<text transform="rotate(0.1 114.50 339.60)" x="114.50" y="339.60" font-size="5.5" text-anchor="start" fill="#231f20" stroke="#231f20" stroke-width="0.12" textLength="8.25" lengthAdjust="spacingAndGlyphs">103</text>
<text transform="rotate(0.1 152.97 339.60)" x="152.97" y="339.60" font-size="5.5" text-anchor="start" fill="#231f20" stroke="#231f20" stroke-width="0.12" textLength="5.50" lengthAdjust="spacingAndGlyphs">99</text>
<text transform="rotate(0.1 190.06 339.60)" x="190.06" y="339.60" font-size="5.5" text-anchor="start" fill="#231f20" stroke="#231f20" stroke-width="0.12" textLength="5.50" lengthAdjust="spacingAndGlyphs">86</text>
<text transform="rotate(0.1 227.15 339.60)" x="227.15" y="339.60" font-size="5.5" text-anchor="start" fill="#231f20" stroke="#231f20" stroke-width="0.12" textLength="5.50" lengthAdjust="spacingAndGlyphs">64</text>
<line x1="300.50" y1="198.90" x2="300.50" y2="302.80" stroke="#231f20" stroke-width="1.2"/>
<line x1="297.20" y1="299.80" x2="498.90" y2="299.80" stroke="#231f20" stroke-width="1.8"/>
<line x1="297.20" y1="202.10" x2="300.50" y2="202.10" stroke="#231f20" stroke-width="1.0"/>
<line x1="297.20" y1="226.53" x2="300.50" y2="226.53" stroke="#231f20" stroke-width="1.0"/>
<line x1="297.20" y1="250.95" x2="300.50" y2="250.95" stroke="#231f20" stroke-width="1.0"/>
<line x1="297.20" y1="275.38" x2="300.50" y2="275.38" stroke="#231f20" stroke-width="1.0"/>
<line x1="297.20" y1="299.80" x2="300.50" y2="299.80" stroke="#231f20" stroke-width="1.0"/>
<line x1="339.54" y1="299.80" x2="339.54" y2="302.80" stroke="#231f20" stroke-width="1.0"/>
<line x1="378.58" y1="299.80" x2="378.58" y2="302.80" stroke="#231f20" stroke-width="1.0"/>
<line x1="417.62" y1="299.80" x2="417.62" y2="302.80" stroke="#231f20" stroke-width="1.0"/>
<line x1="456.66" y1="299.80" x2="456.66" y2="302.80" stroke="#231f20" stroke-width="1.0"/>
<line x1="495.70" y1="299.80" x2="495.70" y2="302.80" stroke="#231f20" stroke-width="1.0"/>
<text transform="rotate(0.1 284.80 204.50)" x="284.80" y="204.50" font-size="6.7" text-anchor="start" fill="#333" stroke="#333" stroke-width="0.05" textLength="9.20" lengthAdjust="spacingAndGlyphs">100</text>
<text transform="rotate(0.1 287.80 228.93)" x="287.80" y="228.93" font-size="6.7" text-anchor="start" fill="#333" stroke="#333" stroke-width="0.05" textLength="6.20" lengthAdjust="spacingAndGlyphs">75</text>
<text transform="rotate(0.1 287.80 253.35)" x="287.80" y="253.35" font-size="6.7" text-anchor="start" fill="#333" stroke="#333" stroke-width="0.05" textLength="6.20" lengthAdjust="spacingAndGlyphs">50</text>
<text transform="rotate(0.1 287.80 277.77)" x="287.80" y="277.77" font-size="6.7" text-anchor="start" fill="#333" stroke="#333" stroke-width="0.05" textLength="6.20" lengthAdjust="spacingAndGlyphs">25</text>
<text transform="rotate(0.1 291.00 302.20)" x="291.00" y="302.20" font-size="6.7" text-anchor="start" fill="#333" stroke="#333" stroke-width="0.05" textLength="3.00" lengthAdjust="spacingAndGlyphs">0</text>
<text transform="rotate(0.1 299.00 311.50)" x="299.00" y="311.50" font-size="6.7" text-anchor="start" fill="#333" stroke="#333" stroke-width="0.05" textLength="3.00" lengthAdjust="spacingAndGlyphs">0</text>
<text transform="rotate(0.1 338.04 311.50)" x="338.04" y="311.50" font-size="6.7" text-anchor="start" fill="#333" stroke="#333" stroke-width="0.05" textLength="3.00" lengthAdjust="spacingAndGlyphs">1</text>
<text transform="rotate(0.1 377.08 311.50)" x="377.08" y="311.50" font-size="6.7" text-anchor="start" fill="#333" stroke="#333" stroke-width="0.05" textLength="3.00" lengthAdjust="spacingAndGlyphs">2</text>
<text transform="rotate(0.1 416.12 311.50)" x="416.12" y="311.50" font-size="6.7" text-anchor="start" fill="#333" stroke="#333" stroke-width="0.05" textLength="3.00" lengthAdjust="spacingAndGlyphs">3</text>
<text transform="rotate(0.1 455.16 311.50)" x="455.16" y="311.50" font-size="6.7" text-anchor="start" fill="#333" stroke="#333" stroke-width="0.05" textLength="3.00" lengthAdjust="spacingAndGlyphs">4</text>
<text transform="rotate(0.1 494.20 311.50)" x="494.20" y="311.50" font-size="6.7" text-anchor="start" fill="#333" stroke="#333" stroke-width="0.05" textLength="3.00" lengthAdjust="spacingAndGlyphs">5</text>
<text transform="rotate(0.1 264.10 192.30)" x="264.10" y="192.30" font-size="11.2" text-anchor="start" fill="#231f20" stroke="#231f20" stroke-width="0.1" textLength="6.90" lengthAdjust="spacingAndGlyphs">D</text>
<text transform="rotate(0.1 319.10 192.60)" x="319.10" y="192.60" font-size="8.2" text-anchor="start" fill="#231f20" stroke="#231f20" stroke-width="0.36" textLength="157.80" lengthAdjust="spacingAndGlyphs">AML17 (AIDA): Overall Survival from Relapse</text>
<text transform="rotate(0.1 367.30 323.30)" x="367.30" y="323.30" font-size="8.2" text-anchor="start" fill="#231f20" stroke="#231f20" stroke-width="0.36" textLength="65.40" lengthAdjust="spacingAndGlyphs">Years from relapse</text>
<text transform="translate(278.90,268.10) rotate(-90)" x="0" y="0" font-size="8.2" fill="#231f20" stroke="#231f20" textLength="38.80" lengthAdjust="spacingAndGlyphs">% still alive</text>
<polyline points="300.40,202.20 495.90,202.20" fill="none" stroke="#4a659c" stroke-width="1.6" stroke-linejoin="miter"/>
<polyline points="300.40,202.20 420.40,202.20 420.40,210.00 436.20,210.00 436.20,219.20 495.90,219.20" fill="none" stroke="#c23a5c" stroke-width="1.6" stroke-linejoin="miter"/>
<text transform="rotate(0.1 499.30 203.80)" x="499.30" y="203.80" font-size="5.4" text-anchor="start" fill="#6479ab" stroke="#6479ab" stroke-width="0.05" textLength="12.70" lengthAdjust="spacingAndGlyphs">100%</text>
<text transform="rotate(0.1 499.30 220.70)" x="499.30" y="220.70" font-size="5.4" text-anchor="start" fill="#c9506f" stroke="#c9506f" stroke-width="0.05" textLength="9.70" lengthAdjust="spacingAndGlyphs">83%</text>
<text transform="rotate(0.1 331.20 266.90)" x="331.20" y="266.90" font-size="5.5" text-anchor="start" fill="#231f20" stroke="#231f20" stroke-width="0.12" textLength="59.60" lengthAdjust="spacingAndGlyphs">HR 5.12 (0.30–88.19) p=0.3</text>
<text transform="rotate(0.1 340.35 276.10)" x="340.35" y="276.10" font-size="5.5" text-anchor="start" fill="#231f20" stroke="#231f20" stroke-width="0.12" textLength="7.30" lengthAdjust="spacingAndGlyphs">No.</text>
<text transform="rotate(0.1 358.75 276.10)" x="358.75" y="276.10" font-size="5.5" text-anchor="start" fill="#231f20" stroke="#231f20" stroke-width="0.12" textLength="7.10" lengthAdjust="spacingAndGlyphs">No.</text>
<text transform="rotate(0.1 371.90 276.10)" x="371.90" y="276.10" font-size="5.5" text-anchor="start" fill="#231f20" stroke="#231f20" stroke-width="0.12" textLength="15.40" lengthAdjust="spacingAndGlyphs">Events</text>
<text transform="rotate(0.1 335.05 282.30)" x="335.05" y="282.30" font-size="5.5" text-anchor="start" fill="#231f20" stroke="#231f20" stroke-width="0.12" textLength="17.90" lengthAdjust="spacingAndGlyphs">Patients</text>
<text transform="rotate(0.1 357.30 282.30)" x="357.30" y="282.30" font-size="5.5" text-anchor="start" fill="#231f20" stroke="#231f20" stroke-width="0.12" textLength="10.00" lengthAdjust="spacingAndGlyphs">Obs.</text>
<text transform="rotate(0.1 375.25 282.30)" x="375.25" y="282.30" font-size="5.5" text-anchor="start" fill="#231f20" stroke="#231f20" stroke-width="0.12" textLength="8.70" lengthAdjust="spacingAndGlyphs">Exp.</text>
<text transform="rotate(0.1 314.40 288.90)" x="314.40" y="288.90" font-size="5.5" text-anchor="start" fill="#231f20" stroke="#231f20" stroke-width="0.12" textLength="17.30" lengthAdjust="spacingAndGlyphs">NO SCT</text>
<text transform="rotate(0.1 341.40 288.90)" x="341.40" y="288.90" font-size="5.5" text-anchor="start" fill="#231f20" stroke="#231f20" stroke-width="0.12" textLength="5.20" lengthAdjust="spacingAndGlyphs">18</text>
<text transform="rotate(0.1 360.90 288.90)" x="360.90" y="288.90" font-size="5.5" text-anchor="start" fill="#231f20" stroke="#231f20" stroke-width="0.12" textLength="2.80" lengthAdjust="spacingAndGlyphs">0</text>
<text transform="rotate(0.1 376.50 288.90)" x="376.50" y="288.90" font-size="5.5" text-anchor="start" fill="#231f20" stroke="#231f20" stroke-width="0.12" textLength="6.20" lengthAdjust="spacingAndGlyphs">0.8</text>
<text transform="rotate(0.1 322.70 295.10)" x="322.70" y="295.10" font-size="5.5" text-anchor="start" fill="#231f20" stroke="#231f20" stroke-width="0.12" textLength="9.00" lengthAdjust="spacingAndGlyphs">SCT</text>
<text transform="rotate(0.1 341.40 295.10)" x="341.40" y="295.10" font-size="5.5" text-anchor="start" fill="#231f20" stroke="#231f20" stroke-width="0.12" textLength="5.20" lengthAdjust="spacingAndGlyphs">13</text>
<text transform="rotate(0.1 360.90 295.10)" x="360.90" y="295.10" font-size="5.5" text-anchor="start" fill="#231f20" stroke="#231f20" stroke-width="0.12" textLength="2.80" lengthAdjust="spacingAndGlyphs">2</text>
<text transform="rotate(0.1 376.50 295.10)" x="376.50" y="295.10" font-size="5.5" text-anchor="start" fill="#231f20" stroke="#231f20" stroke-width="0.12" textLength="6.20" lengthAdjust="spacingAndGlyphs">1.2</text>
<line x1="452.10" y1="284.90" x2="470.90" y2="284.90" stroke="#7d91b8" stroke-width="1.8"/>
<line x1="452.10" y1="293.90" x2="470.90" y2="293.90" stroke="#c8537a" stroke-width="1.8"/>
<text transform="rotate(0.1 474.00 286.60)" x="474.00" y="286.60" font-size="5.5" text-anchor="start" fill="#231f20" stroke="#231f20" stroke-width="0.12" textLength="16.40" lengthAdjust="spacingAndGlyphs">No SCT</text>
<text transform="rotate(0.1 474.00 295.70)" x="474.00" y="295.70" font-size="5.5" text-anchor="start" fill="#231f20" stroke="#231f20" stroke-width="0.12" textLength="8.40" lengthAdjust="spacingAndGlyphs">SCT</text>
<text transform="rotate(0.1 278.50 326.80)" x="278.50" y="326.80" font-size="5.5" text-anchor="start" fill="#231f20" stroke="#231f20" stroke-width="0.12" textLength="15.20" lengthAdjust="spacingAndGlyphs">At risk:</text>
<text transform="rotate(0.1 276.70 333.10)" x="276.70" y="333.10" font-size="5.5" text-anchor="start" fill="#231f20" stroke="#231f20" stroke-width="0.12" textLength="17.00" lengthAdjust="spacingAndGlyphs">NO SCT</text>
<text transform="rotate(0.1 285.40 339.60)" x="285.40" y="339.60" font-size="5.5" text-anchor="start" fill="#231f20" stroke="#231f20" stroke-width="0.12" textLength="8.30" lengthAdjust="spacingAndGlyphs">SCT</text>
<text transform="rotate(0.1 297.75 333.10)" x="297.75" y="333.10" font-size="5.5" text-anchor="start" fill="#231f20" stroke="#231f20" stroke-width="0.12" textLength="5.50" lengthAdjust="spacingAndGlyphs">18</text>
<text transform="rotate(0.1 336.79 333.10)" x="336.79" y="333.10" font-size="5.5" text-anchor="start" fill="#231f20" stroke="#231f20" stroke-width="0.12" textLength="5.50" lengthAdjust="spacingAndGlyphs">17</text>
<text transform="rotate(0.1 375.83 333.10)" x="375.83" y="333.10" font-size="5.5" text-anchor="start" fill="#231f20" stroke="#231f20" stroke-width="0.12" textLength="5.50" lengthAdjust="spacingAndGlyphs">15</text>
<text transform="rotate(0.1 416.25 333.10)" x="416.25" y="333.10" font-size="5.5" text-anchor="start" fill="#231f20" stroke="#231f20" stroke-width="0.12" textLength="2.75" lengthAdjust="spacingAndGlyphs">8</text>
<text transform="rotate(0.1 455.28 333.10)" x="455.28" y="333.10" font-size="5.5" text-anchor="start" fill="#231f20" stroke="#231f20" stroke-width="0.12" textLength="2.75" lengthAdjust="spacingAndGlyphs">4</text>
<text transform="rotate(0.1 494.32 333.10)" x="494.32" y="333.10" font-size="5.5" text-anchor="start" fill="#231f20" stroke="#231f20" stroke-width="0.12" textLength="2.75" lengthAdjust="spacingAndGlyphs">1</text>
<text transform="rotate(0.1 297.75 339.60)" x="297.75" y="339.60" font-size="5.5" text-anchor="start" fill="#231f20" stroke="#231f20" stroke-width="0.12" textLength="5.50" lengthAdjust="spacingAndGlyphs">13</text>
<text transform="rotate(0.1 336.79 339.60)" x="336.79" y="339.60" font-size="5.5" text-anchor="start" fill="#231f20" stroke="#231f20" stroke-width="0.12" textLength="5.50" lengthAdjust="spacingAndGlyphs">13</text>
<text transform="rotate(0.1 375.83 339.60)" x="375.83" y="339.60" font-size="5.5" text-anchor="start" fill="#231f20" stroke="#231f20" stroke-width="0.12" textLength="5.50" lengthAdjust="spacingAndGlyphs">13</text>
<text transform="rotate(0.1 414.87 339.60)" x="414.87" y="339.60" font-size="5.5" text-anchor="start" fill="#231f20" stroke="#231f20" stroke-width="0.12" textLength="5.50" lengthAdjust="spacingAndGlyphs">12</text>
<text transform="rotate(0.1 455.28 339.60)" x="455.28" y="339.60" font-size="5.5" text-anchor="start" fill="#231f20" stroke="#231f20" stroke-width="0.12" textLength="2.75" lengthAdjust="spacingAndGlyphs">7</text>
<text transform="rotate(0.1 494.32 339.60)" x="494.32" y="339.60" font-size="5.5" text-anchor="start" fill="#231f20" stroke="#231f20" stroke-width="0.12" textLength="2.75" lengthAdjust="spacingAndGlyphs">1</text>
<rect x="0.5" y="0.5" width="518.5" height="346.9" fill="none" stroke="#000" stroke-width="1.1"/>
<line x1="519.5" y1="0" x2="519.5" y2="348" stroke="#000" stroke-width="1"/>
</svg>
</body></html>
